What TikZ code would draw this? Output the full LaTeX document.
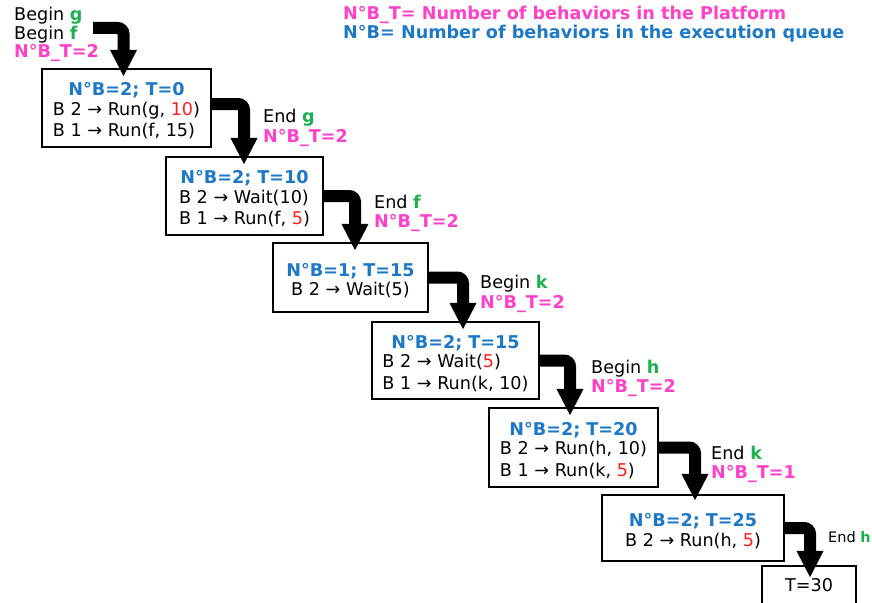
\documentclass[tikz,border=0pt]{standalone}
\usepackage{fontspec}
\setmainfont{DejaVu Sans}
\usetikzlibrary{arrows.meta}
\definecolor{pk}{RGB}{255,64,200}
\definecolor{bl}{RGB}{30,120,200}
\definecolor{gr}{RGB}{30,176,80}
\definecolor{rd}{RGB}{255,30,30}
\newcommand{\hd}[1]{\rule{0pt}{23pt}{\bfseries\color{bl}#1}}
\newcommand{\rn}[1]{{\color{rd}#1}}
\newcommand{\gn}[1]{{\bfseries\color{gr}#1}}
\newcommand{\bd}[1]{\begin{tabular}[t]{@{}l@{}}#1\end{tabular}}
\begin{document}
\begin{tikzpicture}[x=1pt,y=-1pt,
 every node/.style={font=\fontsize{17.6}{21.5}\selectfont},
 state/.style={draw=black,line width=2.4pt,inner sep=0pt,align=center,fill=white},
 lbl/.style={anchor=base west,inner sep=0pt},
 pinklbl/.style={lbl,text=pk,font=\fontsize{17.6}{21.5}\selectfont\bfseries},
 bluelbl/.style={lbl,text=bl,font=\fontsize{17.6}{21.5}\selectfont\bfseries},
 flow/.style={line width=12pt,rounded corners=6pt,-{Triangle[width=25pt,length=27pt]}}]
\useasboundingbox (0,0) rectangle (872,602);
\clip (0,0) rectangle (872,602);

% legend
\node[pinklbl] (leg1) at (343,19.5) {N°B\_T= Number of behaviors in the Platform};
\node[bluelbl] (leg2) at (343,38) {N°B= Number of behaviors in the execution queue};

% states
\node[state,minimum width=169pt,minimum height=78pt] (b1) at (126.5,108)
 {\hd{N°B=2; T=0}\\[-2pt]\bd{B 2 → Run(g, \rn{10})\\B 1 → Run(f, 15)}};
\node[state,minimum width=157pt,minimum height=78pt] (b2) at (244.5,196)
 {\hd{N°B=2; T=10}\\[-2pt]\bd{B 2 → Wait(10)\\B 1 → Run(f, \rn{5})}};
\node[state,minimum width=155pt,minimum height=69pt] (b3) at (350.5,277.5)
 {\hd{N°B=1; T=15}\\[-2pt]\bd{B 2 → Wait(5)}};
\node[state,minimum width=167pt,minimum height=77pt] (b4) at (455.5,360.5)
 {\hd{N°B=2; T=15}\\[-2pt]\bd{B 2 → Wait(\rn{5})\\B 1 → Run(k, 10)}};
\node[state,minimum width=169pt,minimum height=79pt] (b5) at (573.5,447.5)
 {\hd{N°B=2; T=20}\\[-2pt]\bd{B 2 → Run(h, 10)\\B 1 → Run(k, \rn{5})}};
\node[state,minimum width=182pt,minimum height=66pt] (b6) at (693,528)
 {\hd{N°B=2; T=25}\\[-2pt]\bd{B 2 → Run(h, \rn{5})}};
\node[state,minimum width=94pt,minimum height=38pt] (b7) at (809,585) {T=30};

% event labels
\node[lbl] (lg1) at (14,21) {Begin \gn{g}};
\node[lbl] (lg2) at (14,40) {Begin \gn{f}};
\node[pinklbl] (lg3) at (14,58) {N°B\_T=2};
\node[lbl] (le1) at (263,122) {End \gn{g}};
\node[pinklbl] (le2) at (263,142) {N°B\_T=2};
\node[lbl] (lf1) at (374,208) {End \gn{f}};
\node[pinklbl] (lf2) at (374,227) {N°B\_T=2};
\node[lbl] (lk1) at (480,288) {Begin \gn{k}};
\node[pinklbl] (lk2) at (480,308) {N°B\_T=2};
\node[lbl] (lh1) at (591,373) {Begin \gn{h}};
\node[pinklbl] (lh2) at (591,392) {N°B\_T=2};
\node[lbl] (lek1) at (711,459) {End \gn{k}};
\node[pinklbl] (lek2) at (711,478) {N°B\_T=1};
\node[lbl,font=\fontsize{14.5}{16}\selectfont] (leh) at (828,542) {End \gn{h}};

% flow arrows
\coordinate (s0) at (93,28);
\draw[flow] (s0) -| ([xshift=-3pt,yshift=-9pt]b1.north);
\draw[flow] ([yshift=4pt]b1.east) -| ([xshift=-0.5pt,yshift=-9pt]b2.north);
\draw[flow] (b2.east) -| ([xshift=4.5pt,yshift=-9pt]b3.north);
\draw[flow] (b3.east) -| ([xshift=7.5pt,yshift=-9pt]b4.north);
\draw[flow] (b4.east) -| ([xshift=-3.5pt,yshift=-9pt]b5.north);
\draw[flow] (b5.east) -| ([xshift=2pt,yshift=-7pt]b6.north);
\draw[flow] (b6.east) -| ([xshift=1pt,yshift=-13pt]b7.north);
\end{tikzpicture}
\end{document}
